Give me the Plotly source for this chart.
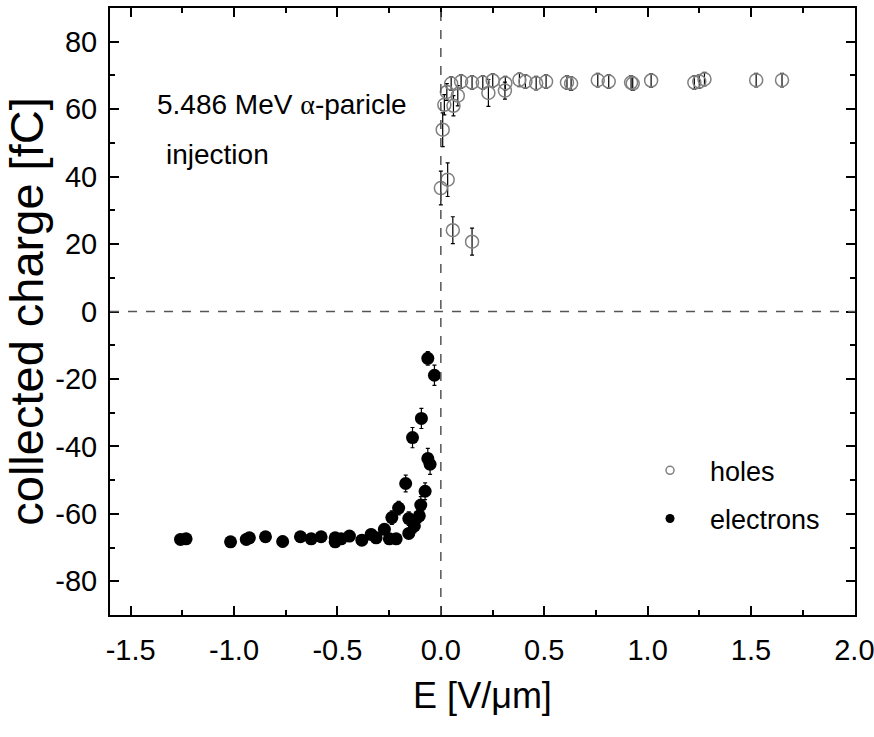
import plotly.graph_objects as go

# Hole signal (positive field)
holes_E = [0.0, 0.009, 0.017, 0.029, 0.033, 0.05, 0.058, 0.061, 0.082, 0.098,
           0.151, 0.151, 0.203, 0.23, 0.251, 0.31, 0.312, 0.38, 0.409, 0.461,
           0.509, 0.61, 0.63, 0.759, 0.812, 0.92, 0.928, 1.017, 1.226, 1.25,
           1.275, 1.525, 1.65]
holes_Q = [36.6, 53.9, 61.3, 65.1, 39.1, 67.6, 24.1, 61.0, 64.0, 68.2,
           67.9, 20.7, 67.9, 64.8, 68.5, 65.5, 67.7, 68.7, 68.2, 67.7,
           68.2, 67.9, 67.6, 68.6, 68.2, 67.9, 67.6, 68.5, 67.9, 68.2,
           68.9, 68.6, 68.6]
holes_err = [5, 5, 3, 2.5, 5, 2, 4, 3, 3, 2,
             2, 4, 2, 4, 2, 2.5, 2, 2, 2, 2,
             2, 2, 2, 2, 2, 2, 2, 2, 2, 2,
             2, 2, 2]

# Electron signal (negative field)
elec_E = [-1.259, -1.232, -1.017, -0.941, -0.926, -0.848, -0.765, -0.679, -0.627,
          -0.579, -0.511, -0.511, -0.482, -0.442, -0.382, -0.337, -0.313, -0.273,
          -0.249, -0.237, -0.216, -0.204, -0.17, -0.155, -0.155, -0.137, -0.128,
          -0.104, -0.097, -0.094, -0.076, -0.063, -0.063, -0.052, -0.031]
elec_Q = [-67.6, -67.4, -68.3, -67.6, -67.1, -66.8, -68.2, -66.8, -67.4,
          -66.8, -67.1, -68.3, -67.4, -66.6, -67.8, -66.1, -67.1, -64.6,
          -67.4, -61.1, -67.4, -58.3, -51.0, -65.8, -61.4, -37.4, -63.6,
          -60.6, -57.4, -31.7, -53.3, -13.9, -43.6, -45.3, -18.9]
elec_err = [1.5, 1.5, 1.5, 1.5, 1.5, 1.5, 1.5, 1.5, 1.5,
            1.5, 1.5, 1.5, 1.5, 1.5, 1.5, 1.5, 1.5, 1.5,
            1.5, 2, 1.5, 2, 2.5, 1.5, 2, 3, 2,
            2, 2.5, 3, 2.5, 2, 3, 3, 3]

x_ticks = [-1.5, -1.0, -0.5, 0.0, 0.5, 1.0, 1.5, 2.0]
y_ticks = [-80, -60, -40, -20, 0, 20, 40, 60, 80]
# Tick labels use a plain hyphen for the minus sign
x_labels = [f"{v:.1f}" for v in x_ticks]
y_labels = [f"{v:d}" for v in y_ticks]

FONT = "Liberation Sans, Arial, sans-serif"

fig = go.Figure()

fig.add_trace(go.Scatter(
    x=holes_E, y=holes_Q, mode="markers", showlegend=False,
    marker=dict(symbol="circle-open", size=13, color="#808080", line=dict(width=1.5)),
    error_y=dict(type="data", array=holes_err, color="black", thickness=1.2, width=2),
))
fig.add_trace(go.Scatter(
    x=elec_E, y=elec_Q, mode="markers", showlegend=False,
    marker=dict(symbol="circle", size=13, color="black"),
    error_y=dict(type="data", array=elec_err, color="black", thickness=1.2, width=2),
))

# Legend entries with small symbols
fig.add_trace(go.Scatter(
    x=[None], y=[None], mode="markers", name="holes", legendgroup="h",
    marker=dict(symbol="circle-open", size=8, color="#808080", line=dict(width=1.5)),
))
fig.add_trace(go.Scatter(
    x=[None], y=[None], mode="markers", name="electrons", legendgroup="e",
    marker=dict(symbol="circle", size=9, color="black"),
))

# Dashed zero lines
fig.add_shape(type="line", xref="x", yref="paper", x0=0, x1=0, y0=0, y1=1,
              line=dict(color="#555", width=1.5, dash="dash"))
fig.add_shape(type="line", xref="paper", yref="y", x0=0, x1=1, y0=0, y1=0,
              line=dict(color="#555", width=1.5, dash="dash"))

fig.add_annotation(x=-1.38, y=61.5, xref="x", yref="y", xanchor="left", yanchor="middle",
                   text="5.486 MeV <span style='font-family:Liberation Serif'>α</span>-paricle",
                   showarrow=False, font=dict(family=FONT, size=28, color="black"))
fig.add_annotation(x=-1.337, y=46.5, xref="x", yref="y", xanchor="left", yanchor="middle",
                   text="injection", showarrow=False,
                   font=dict(family=FONT, size=28, color="black"))

axis_common = dict(
    showline=True, linecolor="black", linewidth=2, mirror="ticks",
    ticks="inside", ticklen=9, tickwidth=1.5, tickcolor="black",
    showgrid=False, zeroline=False, automargin=False,
    tickfont=dict(family=FONT, size=29, color="black"),
    ticklabeloverflow="allow",
)

fig.update_xaxes(
    range=[-1.6, 2.003], tickvals=x_ticks, ticktext=x_labels,
    ticklabelstandoff=8,
    minor=dict(ticks="inside", ticklen=5, tickwidth=1.5, tickcolor="black", dtick=0.25,
               showgrid=False),
    title=dict(text="E [V/μm]", font=dict(family=FONT, size=36, color="black"), standoff=18),
    **axis_common,
)
fig.update_yaxes(
    range=[-90, 90], tickvals=y_ticks, ticktext=y_labels,
    ticklabelstandoff=5,
    minor=dict(ticks="inside", ticklen=5, tickwidth=1.5, tickcolor="black", dtick=10,
               showgrid=False),
    title=dict(text="collected charge [fC]", font=dict(family=FONT, size=47, color="black"),
               standoff=8),
    **axis_common,
)

fig.update_layout(
    width=874, height=737,
    margin=dict(l=110, r=19, t=8, b=122, autoexpand=False),
    plot_bgcolor="white", paper_bgcolor="white",
    showlegend=True,
    legend=dict(x=0.698, y=0.198, xanchor="left", yanchor="middle",
                font=dict(family=FONT, size=27, color="black"),
                tracegroupgap=10, bgcolor="rgba(0,0,0,0)", itemwidth=70),
)

fig.write_html("out.html")
